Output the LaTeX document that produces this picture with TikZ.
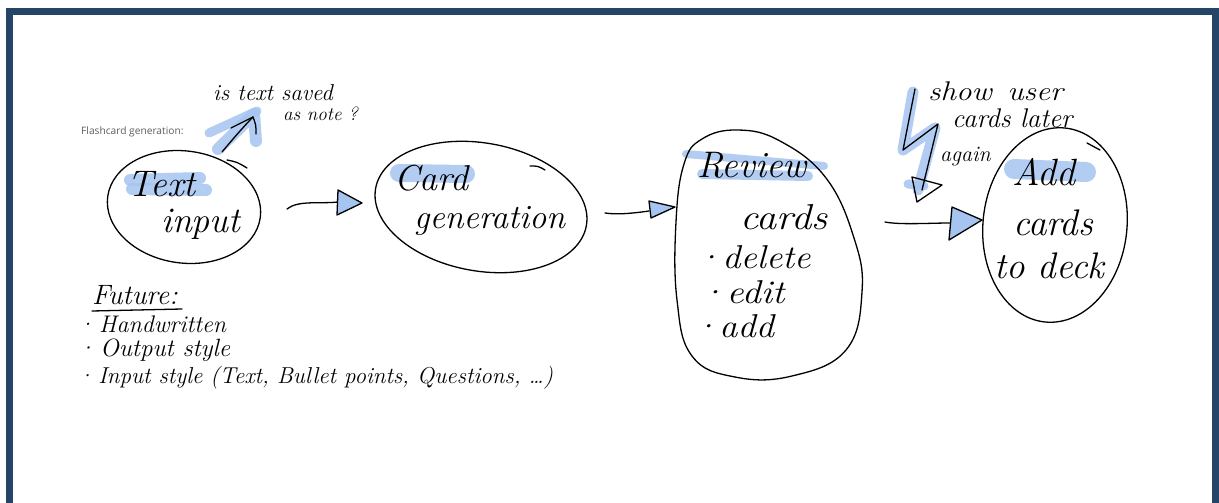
\documentclass[tikz,border=0pt]{standalone}
\usepackage{fontspec}
\newfontfamily\uifont{Open Sans}
\usetikzlibrary{shapes.geometric}
\definecolor{framec}{RGB}{36,68,104}
\definecolor{marker}{RGB}{165,196,240}
\definecolor{uigray}{RGB}{95,95,95}
\tikzset{
  pen/.style={line width=1.3pt, line cap=round, line join=round, black},
  hl/.style={line width=#1, line cap=round, line join=round, marker, opacity=0.85},
  hw/.style={font=\fontsize{#1}{#1}\selectfont\itshape, inner sep=0pt, anchor=base west},
  wide/.style={xscale=#1, transform shape},
  bubble/.style={ellipse, draw, line width=1.3pt, inner sep=0pt},
  tip/.style={pen, fill=marker},
}
\begin{document}
\begin{tikzpicture}[x=1pt,y=-1pt]
\useasboundingbox (0,0) rectangle (1219,503);
\clip (0,0) rectangle (1219,503);
\fill[white] (0,0) rectangle (1219,503);
% page frame
\draw[framec, line width=7pt] (9.5,510) -- (9.5,11.5) -- (1215.5,11.5) -- (1215.5,510);

% marker strokes
\draw[hl=12pt] (130,180) -- (200,178);
\draw[hl=12pt] (132,189) -- (206,190);
\draw[hl=18pt] (399,173) -- (466,174);
\draw[hl=8pt] (686,154) -- (824,166);
\draw[hl=10pt] (702,174) -- (808,176);
\draw[hl=20pt] (1014,169) -- (1086,172);
\draw[hl=9pt] (209,133) -- (257,111);
\draw[hl=12pt] (218,149) -- (254,114) -- (256,141);
\draw[hl=11pt] (913,92) -- (903,150) -- (935,128) -- (918,190);
\draw[hl=9pt] (908,184) -- (924,186);

% "Flashcard generation:" caption
\node[font=\uifont\fontsize{10.2}{12}\selectfont, text=uigray, inner sep=0pt, anchor=base west] (cap) at (81,135) {Flashcard generation:};

% question about saving the text
\node[hw=23] (q1) at (213,100) {is text saved};
\node[hw=19] (q2) at (283,121) {as note ?};
\coordinate (qs) at (222,152);
\coordinate (qt) at (253,117);
\draw[pen] (qs) .. controls (232,140) and (245,125) .. (qt) .. controls (256,125) .. (256,134);
\draw[pen] (231,128) -- (qt);

% step 1: text input
\node[bubble, minimum width=154pt, minimum height=112pt, rotate=-8] (e1) at (184,207) {};
\draw[pen] (227,160) .. controls (237,162) .. (247,168);
\node[hw=37] (t1a) at (127,196) {Text};
\node[hw=36] (t1b) at (161,232) {input};

% step 2: card generation
\node[bubble, minimum width=214pt, minimum height=128pt, rotate=-10] (e2) at (481,207) {};
\draw[pen] (530,166) .. controls (538,166) .. (545,170);
\node[hw=36] (t2a) at (394,190) {Card};
\node[hw=34] (t2b) at (414,228) {generation};

% step 3: review
\draw[line width=1.3pt] plot[smooth cycle, tension=0.7] coordinates
  {(702,139) (738,130) (780,141) (826,178) (854,238) (862,292) (846,350) (792,376) (735,377) (692,356) (677,300) (676,222) (684,164)};
\coordinate (rvw) at (676,207);
\coordinate (rve) at (862,225);
\node[hw=37] (t3a) at (697,177) {Review};
\node[hw=36, wide=1.12] (t3b) at (740,229) {cards};
\node[hw=33, wide=1.1] (t3c) at (695,268) {·delete};
\node[hw=33, wide=1.15] (t3d) at (698,303) {·edit};
\node[hw=33, wide=1.1] (t3e) at (692,337) {·add};

% step 4: add to deck
\node[bubble, minimum width=144pt, minimum height=195pt, rotate=-6] (e4) at (1055,225) {};
\draw[pen] (1087,143) .. controls (1094,146) .. (1100,150);
\node[hw=38] (t4a) at (1012,185) {Add};
\node[hw=37] (t4b) at (1013,235) {cards};
\node[hw=37] (t4c) at (994,278) {to deck};

% reminder note with lightning arrow
\node[hw=27, wide=1.15] (n1) at (928,100) {show\hspace{0.5em}user};
\node[hw=27] (n2) at (952,127) {cards later};
\node[hw=22] (n3) at (940,161) {again};
\coordinate (ls) at (915,89);
\coordinate (lt) at (922,190);
\draw[pen] (ls) -- (903,150) -- (938,124) -- (lt);
\draw[pen] (912,177) -- (942,185) -- (917,202) -- cycle;

% connectors between the steps
\coordinate (a1s) at (287,209);
\coordinate (a1t) at (338,202);
\draw[pen] (a1s) .. controls (298,200) and (320,204) .. (a1t);
\draw[tip] (338,190) -- (362,203) -- (337,215) -- cycle;

\coordinate (a2s) at (605,213);
\coordinate (a2t) at (649,211);
\draw[pen] (a2s) .. controls (618,215) and (635,213) .. (a2t);
\draw[tip] (649,201) -- (675,207) -- (651,218) -- cycle;

\coordinate (a3s) at (885,222);
\coordinate (a3t) at (950,223);
\draw[pen] (a3s) .. controls (900,225) and (930,223) .. (a3t);
\draw[tip] (952,207) -- (982,220) -- (949,240) -- cycle;

% future ideas
\node[hw=28] (fut) at (92,304) {Future:};
\draw[pen] (92,311) -- (182,309);
\node[hw=24] (f1) at (77,332) {·\,Handwritten};
\node[hw=25] (f2) at (77,356) {·\,Output style};
\node[hw=23] (f3) at (77,383) {·\,Input style (Text, Bullet points, Questions, \dots)};
\end{tikzpicture}
\end{document}
